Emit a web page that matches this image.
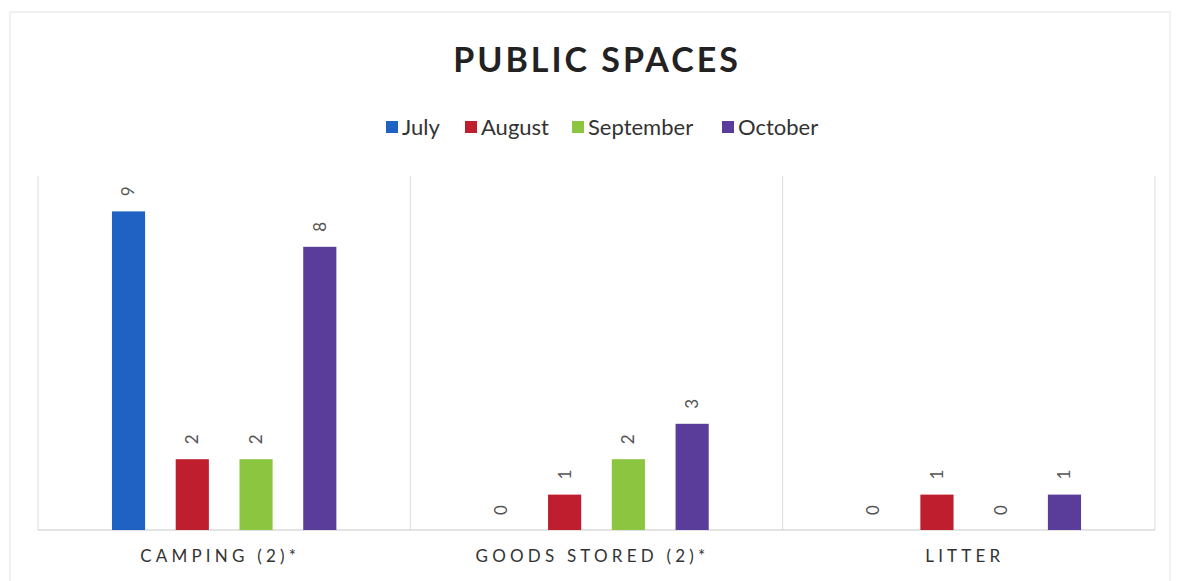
<!DOCTYPE html>
<html>
<head>
<meta charset="utf-8">
<script src="https://cdn.jsdelivr.net/npm/d3@7"></script>
<style>
  body { margin: 0; background: #fff; }
  text { font-family: Lato, 'Open Sans', sans-serif; }
</style>
</head>
<body>
<div id="chart"></div>
<script>
const categories = ['CAMPING (2)*', 'GOODS STORED (2)*', 'LITTER']
const months = ['July', 'August', 'September', 'October']
const july = [9, 0, 0]
const august = [2, 1, 1]
const september = [2, 2, 0]
const october = [8, 3, 1]
const colors = ['#1f62c4', '#be1e2d', '#8cc53f', '#5a3d9b']

const series = [july, august, september, october]

const width = 1180
const height = 581
const plot = { left: 38, right: 1155, top: 176, bottom: 530 }

const svg = d3
  .select('#chart')
  .append('svg')
  .attr('width', width)
  .attr('height', height)

// faint chart border
svg
  .append('rect')
  .attr('x', 10)
  .attr('y', 12)
  .attr('width', 1160)
  .attr('height', 580)
  .attr('fill', 'none')
  .attr('stroke', '#e4e4e4')

svg
  .append('text')
  .attr('x', 597)
  .attr('y', 72)
  .attr('text-anchor', 'middle')
  .attr('font-size', 34)
  .attr('font-weight', 'bold')
  .attr('letter-spacing', 3)
  .attr('fill', '#222')
  .text('PUBLIC SPACES')

const x0 = d3
  .scaleBand()
  .domain(categories)
  .range([plot.left, plot.right])

const x1 = d3
  .scaleBand()
  .domain(months)
  .range([0, x0.bandwidth()])
  .paddingInner(0.48)
  .paddingOuter(1.16)

const y = d3
  .scaleLinear()
  .domain([0, 10])
  .range([plot.bottom, plot.top])

// vertical separators
const bounds = categories.map(c => x0(c)).concat([plot.right])
svg
  .append('g')
  .selectAll('line')
  .data(bounds)
  .enter()
  .append('line')
  .attr('x1', d => d)
  .attr('x2', d => d)
  .attr('y1', y(10))
  .attr('y2', y(0))
  .attr('stroke', '#dcdcdc')

svg
  .append('line')
  .attr('x1', plot.left)
  .attr('x2', plot.right)
  .attr('y1', y(0))
  .attr('y2', y(0))
  .attr('stroke', '#c8c8c8')

const rows = []
categories.forEach((c, i) => {
  months.forEach((m, j) => {
    rows.push({ category: c, month: m, value: series[j][i], color: colors[j] })
  })
})

svg
  .append('g')
  .selectAll('rect')
  .data(rows)
  .enter()
  .append('rect')
  .attr('x', d => x0(d.category) + x1(d.month))
  .attr('y', d => y(d.value))
  .attr('width', x1.bandwidth())
  .attr('height', d => y(0) - y(d.value))
  .attr('fill', d => d.color)

// rotated data labels
svg
  .append('g')
  .selectAll('text')
  .data(rows)
  .enter()
  .append('text')
  .attr('transform', d => {
    const cx = x0(d.category) + x1(d.month) + x1.bandwidth() / 2
    const cy = y(d.value) - 20
    return 'translate(' + cx + ',' + cy + ') rotate(-90)'
  })
  .attr('text-anchor', 'middle')
  .attr('dy', '0.35em')
  .attr('font-size', 17)
  .attr('fill', '#555')
  .text(d => d.value)

// category axis labels
svg
  .append('g')
  .selectAll('text')
  .data(categories)
  .enter()
  .append('text')
  .attr('x', d => x0(d) + x0.bandwidth() / 2 - 4)
  .attr('y', 562)
  .attr('text-anchor', 'middle')
  .attr('font-size', 17)
  .attr('letter-spacing', 4.2)
  .attr('fill', '#333')
  .text(d => d)

// legend
const legendX = [386, 465, 572, 722]
const legend = svg
  .append('g')
  .selectAll('g')
  .data(months)
  .enter()
  .append('g')
  .attr('transform', (d, i) => 'translate(' + legendX[i] + ',127)')

legend
  .append('rect')
  .attr('x', 0)
  .attr('y', -6)
  .attr('width', 12)
  .attr('height', 12)
  .attr('fill', (d, i) => colors[i])

legend
  .append('text')
  .attr('x', 16)
  .attr('dy', '0.35em')
  .attr('font-size', 22)
  .attr('fill', '#333')
  .text(d => d)
</script>
</body>
</html>
